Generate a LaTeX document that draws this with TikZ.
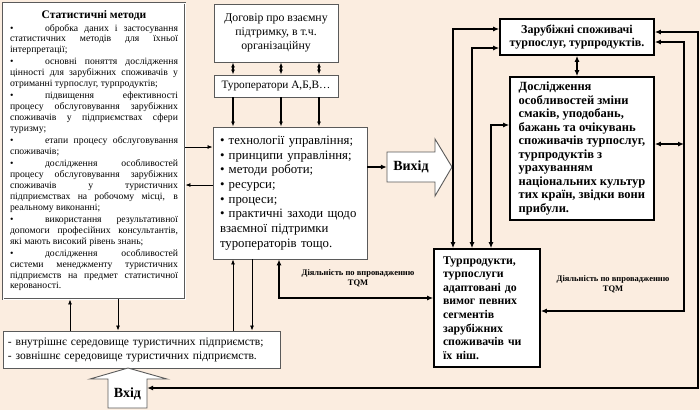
\documentclass[tikz,border=0pt]{standalone}
\usepackage{fontspec}
\setmainfont{Liberation Serif}
\definecolor{bgpeach}{RGB}{251, 237, 224}
\definecolor{framegray}{RGB}{90, 90, 90}
\usetikzlibrary{arrows.meta, calc}

\tikzset{
  thinbox/.style={draw=framegray, line width=0.9pt, fill=white, inner sep=0pt},
  thickbox/.style={draw=black, line width=1.6pt, fill=white, inner sep=0pt},
  arr/.style={line width=0.8pt, -{Latex[length=5pt,width=4pt]}},
  dbl/.style={line width=1.1pt, {Latex[length=5pt,width=4pt]}-{Latex[length=5pt,width=4pt]}},
  tarr/.style={line width=1.6pt, {Latex[length=6pt,width=5pt]}-{Latex[length=6pt,width=5pt]}},
  tone/.style={line width=1.6pt, -{Latex[length=6pt,width=5pt]}},
  tqm/.style={font=\fontsize{8.5}{10}\selectfont\bfseries, align=center}
}

\begin{document}
\begin{tikzpicture}[x=1pt, y=-1pt]
  \useasboundingbox (0,0) rectangle (700,410);
  \fill[bgpeach] (0,0) rectangle (700,410);

  % Statistical methods
  \node[thinbox, double, double distance=0.7pt, minimum width=182pt, minimum height=296pt,
        text width=168pt, align=justify, font=\fontsize{9.7}{10.9}\selectfont] (stat) at (94,151) {%
    \setlength{\parskip}{1.2pt}\setlength{\parindent}{0pt}%
    {\centering\fontsize{11.5}{13}\selectfont\bfseries Статистичні методи\par}
    \makebox[35pt][l]{\textbullet}обробка даних і застосування\linebreak
    статистичних методів для їхньої\linebreak інтерпретації;\par
    \makebox[35pt][l]{\textbullet}основні поняття дослідження\linebreak
    цінності для зарубіжних споживачів у\linebreak отриманні турпослуг, турпродуктів;\par
    \makebox[35pt][l]{\textbullet}підвищення ефективності\linebreak
    процесу обслуговування зарубіжних\linebreak
    споживачів у підприємствах сфери\linebreak туризму;\par
    \makebox[35pt][l]{\textbullet}етапи процесу обслуговування\linebreak споживачів;\par
    \makebox[35pt][l]{\textbullet}дослідження особливостей\linebreak
    процесу обслуговування зарубіжних\linebreak
    споживачів у туристичних\linebreak
    підприємствах на робочому місці, в\linebreak реальному виконанні;\par
    \makebox[35pt][l]{\textbullet}використання результативної\linebreak
    допомоги професійних консультантів,\linebreak які мають високий рівень знань;\par
    \makebox[35pt][l]{\textbullet}дослідження особливостей\linebreak
    системи менеджменту туристичних\linebreak
    підприємств на предмет статистичної\linebreak керованості.\par};

  % Middle column
  \node[thinbox, minimum width=124pt, minimum height=58pt, align=center,
        font=\fontsize{11.8}{14}\selectfont] (dog) at (276,33)
        {Договір про взаємну\\підтримку, в т.ч.\\організаційну};
  \node[thinbox, minimum width=124pt, minimum height=22pt,
        font=\fontsize{11.3}{14}\selectfont] (tur) at (276,86) {Туроператори А,Б,В…};
  \node[thinbox, minimum width=154pt, minimum height=132pt, inner xsep=7pt,
        text width=140pt, align=left, font=\fontsize{12.8}{14.7}\selectfont] (main) at (290,193)
        {\textbullet\ технології управління;\\
         \textbullet\ принципи управління;\\
         \textbullet\ методи роботи;\\
         \textbullet\ ресурси;\\
         \textbullet\ процеси;\\
         \textbullet\ практичні заходи щодо\\
         взаємної підтримки\\
         туроператорів тощо.};
  \node[thinbox, minimum width=277pt, minimum height=37pt, inner xsep=5pt,
        text width=267pt, align=left, font=\fontsize{11.5}{14}\selectfont] (sered) at (141.5,349.5)
        {- внутрішнє середовище туристичних підприємств;\\
         - зовнішнє середовище туристичних підприємств.};

  % Output and input arrows
  \draw[framegray, line width=0.9pt, fill=white]
    (387,152) -- (435,152) -- (435,139) -- (452,167) -- (435,196) -- (435,182) -- (387,182) -- cycle;
  \node[minimum width=48pt, minimum height=30pt, inner sep=0pt,
        font=\fontsize{14}{16}\selectfont\bfseries] (vyhid) at (411,167) {Вихід};
  \draw[framegray, line width=0.9pt, fill=white]
    (108,408) -- (108,379) -- (90,379) -- (128,368) -- (167,379) -- (147,379) -- (147,408) -- cycle;
  \node[minimum width=39pt, minimum height=29pt, inner sep=0pt,
        font=\fontsize{14}{16}\selectfont\bfseries] (vhid) at (127.5,393.5) {Вхід};

  % Right column
  \node[thickbox, minimum width=154pt, minimum height=36pt, align=center,
        font=\fontsize{12}{13}\selectfont\bfseries] (zsp) at (577,37)
        {Зарубіжні споживачі\\турпослуг, турпродуктів.};
  \node[thickbox, minimum width=144pt, minimum height=143pt,
        align=left, font=\fontsize{12.5}{13.5}\selectfont\bfseries] (dosl) at (582,148.5)
        {Дослідження\\особливостей зміни\\смаків, уподобань,\\бажань та очікувань\\
         споживачів турпослуг,\\турпродуктів з\\урахуванням\\національних культур\\
         тих країн, звідки вони\\прибули.};
  \node[thickbox, minimum width=106pt, minimum height=118pt, inner xsep=9pt,
        text width=88pt, align=left, font=\fontsize{11.8}{13.6}\selectfont\bfseries] (tprod) at (487,308)
        {Турпродукти,\\турпослуги\\адаптовані до\\вимог певних\\сегментів\\зарубіжних\\
         споживачів чи\\їх ніш.};

  % Thin connectors
  \foreach \x in {233,281,319} {
    \draw[dbl] (dog.south -| \x,0) -- (tur.north -| \x,0);
    \draw[arr, line width=1.1pt] (tur.south -| \x,0) -- (main.north -| \x,0);
  }
  \draw[arr] (stat.east |- 0,147) -- (main.west |- 0,147);
  \draw[arr] (main.west |- 0,185) -- (stat.east |- 0,185);
  \draw[arr] (sered.north -| 70,0) -- (stat.south -| 70,0);
  \draw[arr] (stat.south -| 118,0) -- (sered.north -| 118,0);
  \draw[arr] (sered.north -| 233,0) -- (main.south -| 233,0);
  \draw[arr] (main.south -| 252,0) -- (sered.north -| 252,0);

  % Thick connectors
  \draw[tone] (main.east |- vyhid) -- (vyhid.west);
  \draw[tarr] (main.south -| 279,0) |- (tprod.west |- 0,298);
  \draw[tarr] (tprod.north -| 453,0) |- (zsp.west |- 0,29);
  \draw[tarr] (tprod.north -| 472,0) |- (zsp.west |- 0,48);
  \draw[tarr] (tprod.north -| 491,0) |- (dosl.west |- 0,125);
  \draw[tarr] (zsp.south) -- (dosl.north -| zsp.south);
  \draw[tarr] (zsp.east |- 0,42) -| (684,311) -- (tprod.east |- 0,311);
  \draw[tarr] (dosl.east |- 0,144) -- (684,144);
  \draw[tarr] ([yshift=5.5pt]vhid.east) -| (698,32) -- (zsp.east |- 0,32);

  % TQM labels
  \node[tqm] (tqmL) at (358,278) {Діяльність по впровадженню\\TQM};
  \node[tqm] (tqmR) at (613,284) {Діяльність по впровадженню\\TQM};
\end{tikzpicture}
\end{document}
